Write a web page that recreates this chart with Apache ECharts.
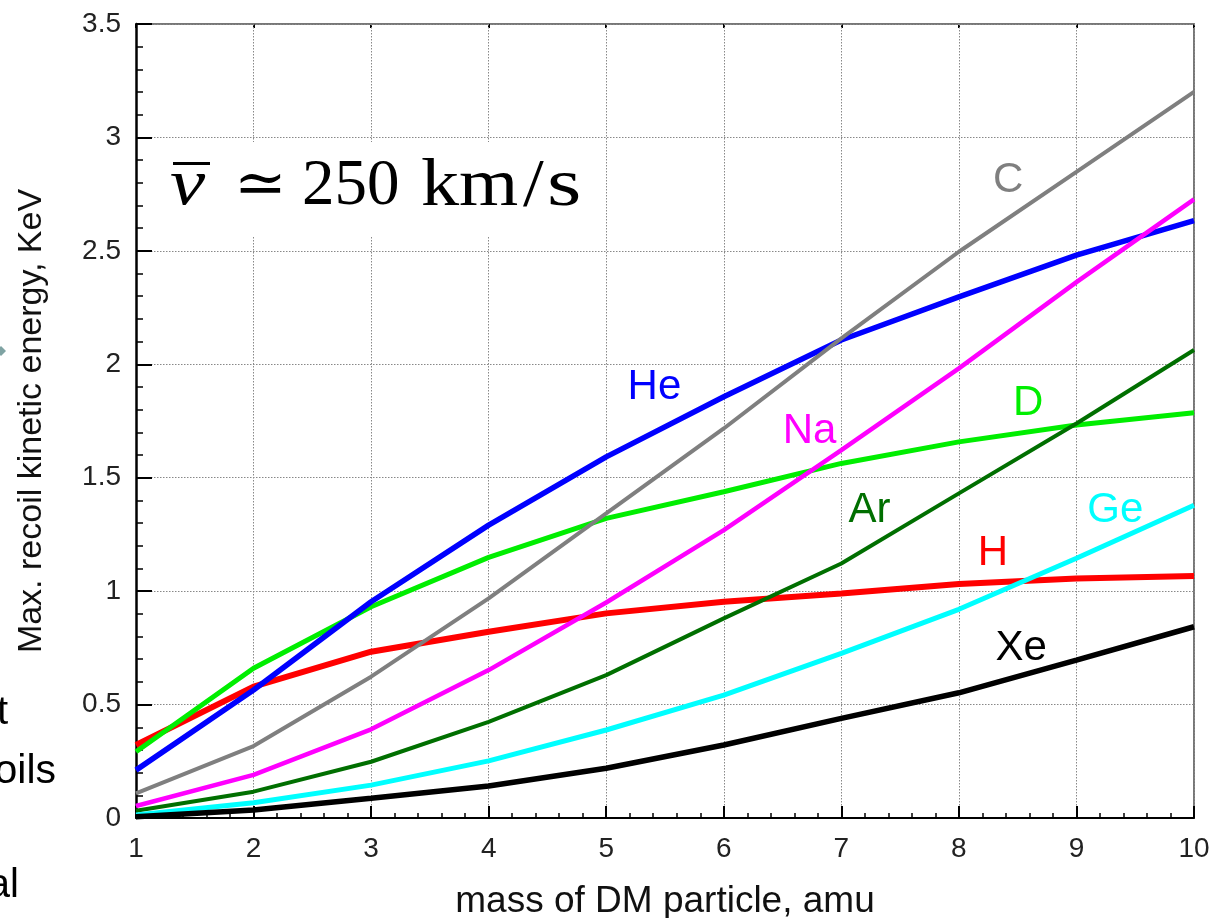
<!DOCTYPE html>
<html>
<head>
<meta charset="utf-8">
<script src="https://cdn.jsdelivr.net/npm/echarts@6.0.0/dist/echarts.min.js"></script>
<style>
  html, body { margin: 0; padding: 0; background: #fff; }
  #chart { width: 1215px; height: 918px; }
</style>
</head>
<body>
<div id="chart"></div>
<script>
// ---- data ----
const masses = [1, 2, 3, 4, 5, 6, 7, 8, 9, 10];
const H  = [0.322, 0.579, 0.733, 0.821, 0.902, 0.953, 0.990, 1.031, 1.056, 1.067];
const D  = [0.292, 0.660, 0.931, 1.149, 1.321, 1.438, 1.563, 1.658, 1.732, 1.786];
const He = [0.211, 0.564, 0.953, 1.291, 1.592, 1.857, 2.107, 2.297, 2.481, 2.633];
const C  = [0.109, 0.317, 0.623, 0.968, 1.343, 1.717, 2.114, 2.496, 2.848, 3.201];
const Na = [0.053, 0.190, 0.391, 0.652, 0.950, 1.269, 1.622, 1.982, 2.362, 2.727];
const Ar = [0.032, 0.116, 0.248, 0.424, 0.630, 0.880, 1.122, 1.431, 1.739, 2.063];
const Ge = [0.013, 0.067, 0.145, 0.252, 0.388, 0.542, 0.726, 0.920, 1.145, 1.379];
const Xe = [0.005, 0.035, 0.087, 0.141, 0.219, 0.322, 0.439, 0.552, 0.696, 0.843];

const seriesNames  = ['H', 'D', 'He', 'C', 'Na', 'Ar', 'Ge', 'Xe'];
const seriesValues = [H, D, He, C, Na, Ar, Ge, Xe];
const seriesColors = ['#ff0000', '#00ee00', '#0000ff', '#7f7f7f', '#ff00ff', '#006f00', '#00ffff', '#000000'];
const seriesWidths = [6, 5, 5.5, 4, 4.5, 4, 5, 5.5];
// label anchor positions in data coordinates (mass, energy)
const labelPos = [[8.29, 1.165], [8.59, 1.826], [5.41, 1.896], [8.42, 2.809],
                  [6.73, 1.702], [7.24, 1.354], [9.33, 1.354], [8.53, 0.746]];

const xName = 'mass of DM particle, amu';
const yName = 'Max. recoil kinetic energy, KeV';

const chart = echarts.init(document.getElementById('chart'));

const series = seriesNames.map((name, i) => ({
  name: name,
  type: 'line',
  data: masses.map((m, k) => [m, seriesValues[i][k]]),
  showSymbol: false,
  symbol: 'none',
  lineStyle: { color: seriesColors[i], width: seriesWidths[i] },
  z: 5,
  markPoint: {
    symbol: 'circle',
    symbolSize: 0,
    silent: true,
    data: [{ coord: labelPos[i], value: name }],
    label: {
      show: true, position: 'inside', formatter: name,
      color: seriesColors[i],
      fontFamily: 'Liberation Sans, Arial, sans-serif', fontSize: 42
    }
  }
}));

const axisFont = 'Liberation Sans, Arial, sans-serif';

chart.setOption({
  animation: false,
  backgroundColor: '#ffffff',
  grid: { left: 136, right: 21, top: 24, bottom: 100, containLabel: false, outerBoundsMode: 'none' },
  xAxis: [{
    type: 'value', min: 1, max: 10, interval: 1,
    name: xName, nameLocation: 'middle', nameGap: 65,
    nameTextStyle: { fontFamily: axisFont, fontSize: 37, color: '#111' },
    axisLine: { show: true, onZero: false, lineStyle: { color: '#000', width: 2 } },
    axisTick: { show: true, inside: true, length: 12, lineStyle: { color: '#000', width: 2 } },
    minorTick: { show: true, splitNumber: 5, length: 5, lineStyle: { color: '#000', width: 1.5 } },
    axisLabel: { fontFamily: axisFont, fontSize: 28, color: '#222', margin: 17 },
    splitLine: { show: true, lineStyle: { color: '#888', width: 1, type: [1.5, 1.5] } },
    z: 2
  }, {
    type: 'value', min: 1, max: 10, interval: 1, position: 'top',
    axisLine: { show: true, onZero: false, lineStyle: { color: '#777', width: 2 } },
    axisTick: { show: true, inside: true, length: 4, lineStyle: { color: '#000', width: 2 } },
    axisLabel: { show: false }, splitLine: { show: false }
  }],
  yAxis: [{
    type: 'value', min: 0, max: 3.5, interval: 0.5,
    name: yName, nameLocation: 'middle', nameGap: 87, nameRotate: 90,
    nameTextStyle: { fontFamily: axisFont, fontSize: 34, color: '#111' },
    axisLine: { show: true, onZero: false, lineStyle: { color: '#000', width: 2.5 } },
    axisTick: { show: true, inside: true, length: 16, lineStyle: { color: '#000', width: 2 } },
    minorTick: { show: true, splitNumber: 5, length: 7, lineStyle: { color: '#000', width: 1.5 } },
    axisLabel: { fontFamily: axisFont, fontSize: 28, color: '#222', margin: 15 },
    splitLine: { show: true, lineStyle: { color: '#888', width: 1, type: [1.5, 1.5] } },
    z: 2
  }, {
    type: 'value', min: 0, max: 3.5, interval: 0.5, position: 'right',
    axisLine: { show: true, onZero: false, lineStyle: { color: '#777', width: 2 } },
    axisTick: { show: false }, axisLabel: { show: false }, splitLine: { show: false }
  }],
  series: series,
  graphic: [
    // white box behind the velocity annotation
    { type: 'rect', left: 153, top: 142, shape: { width: 445, height: 95 },
      style: { fill: '#ffffff' }, z: 3 },
    // overline on v
    { type: 'rect', left: 173, top: 162, shape: { width: 37, height: 3 },
      style: { fill: '#000' }, z: 4 },
    { type: 'text', x: 170, y: 187, z: 4, scaleX: 1.2,
      style: { text: 'v', font: 'italic 66px "Liberation Serif", serif', fill: '#000', verticalAlign: 'middle' } },
    { type: 'text', x: 234, y: 187, z: 4, scaleX: 1.05,
      style: { text: '≃', font: '60px "DejaVu Serif", "Liberation Serif", serif', fill: '#000', verticalAlign: 'middle' } },
    { type: 'text', x: 302, y: 187, z: 4,
      style: { text: '250', font: '65px "Liberation Serif", serif', fill: '#000', verticalAlign: 'middle' } },
    { type: 'text', x: 421, y: 187, z: 4, scaleX: 1.12,
      style: { text: 'km', font: '68px "Liberation Serif", serif', fill: '#000', verticalAlign: 'middle' } },
    { type: 'text', x: 523, y: 187, z: 4, scaleX: 1.1,
      style: { text: '/', font: '68px "Liberation Serif", serif', fill: '#000', verticalAlign: 'middle' } },
    { type: 'text', x: 547, y: 187, z: 4, scaleX: 1.3,
      style: { text: 's', font: '68px "Liberation Serif", serif', fill: '#000', verticalAlign: 'middle' } },
    // fragments of the surrounding slide text at the left edge
    { type: 'text', x: 8, y: 713, z: 4,
      style: { text: 't', font: '40px "Liberation Sans", Arial, sans-serif', fill: '#000', align: 'right', verticalAlign: 'middle' } },
    { type: 'text', x: 56, y: 772, z: 4,
      style: { text: 'oils', font: '41px "Liberation Sans", Arial, sans-serif', fill: '#000', align: 'right', verticalAlign: 'middle' } },
    { type: 'text', x: 19, y: 886, z: 4,
      style: { text: 'al', font: '40px "Liberation Sans", Arial, sans-serif', fill: '#000', align: 'right', verticalAlign: 'middle' } },
    { type: 'polygon', z: 4,
      shape: { points: [[-4, 351], [1, 346], [6, 351], [1, 356]] },
      style: { fill: '#7fa3a3' } }
  ]
});
</script>
</body>
</html>
